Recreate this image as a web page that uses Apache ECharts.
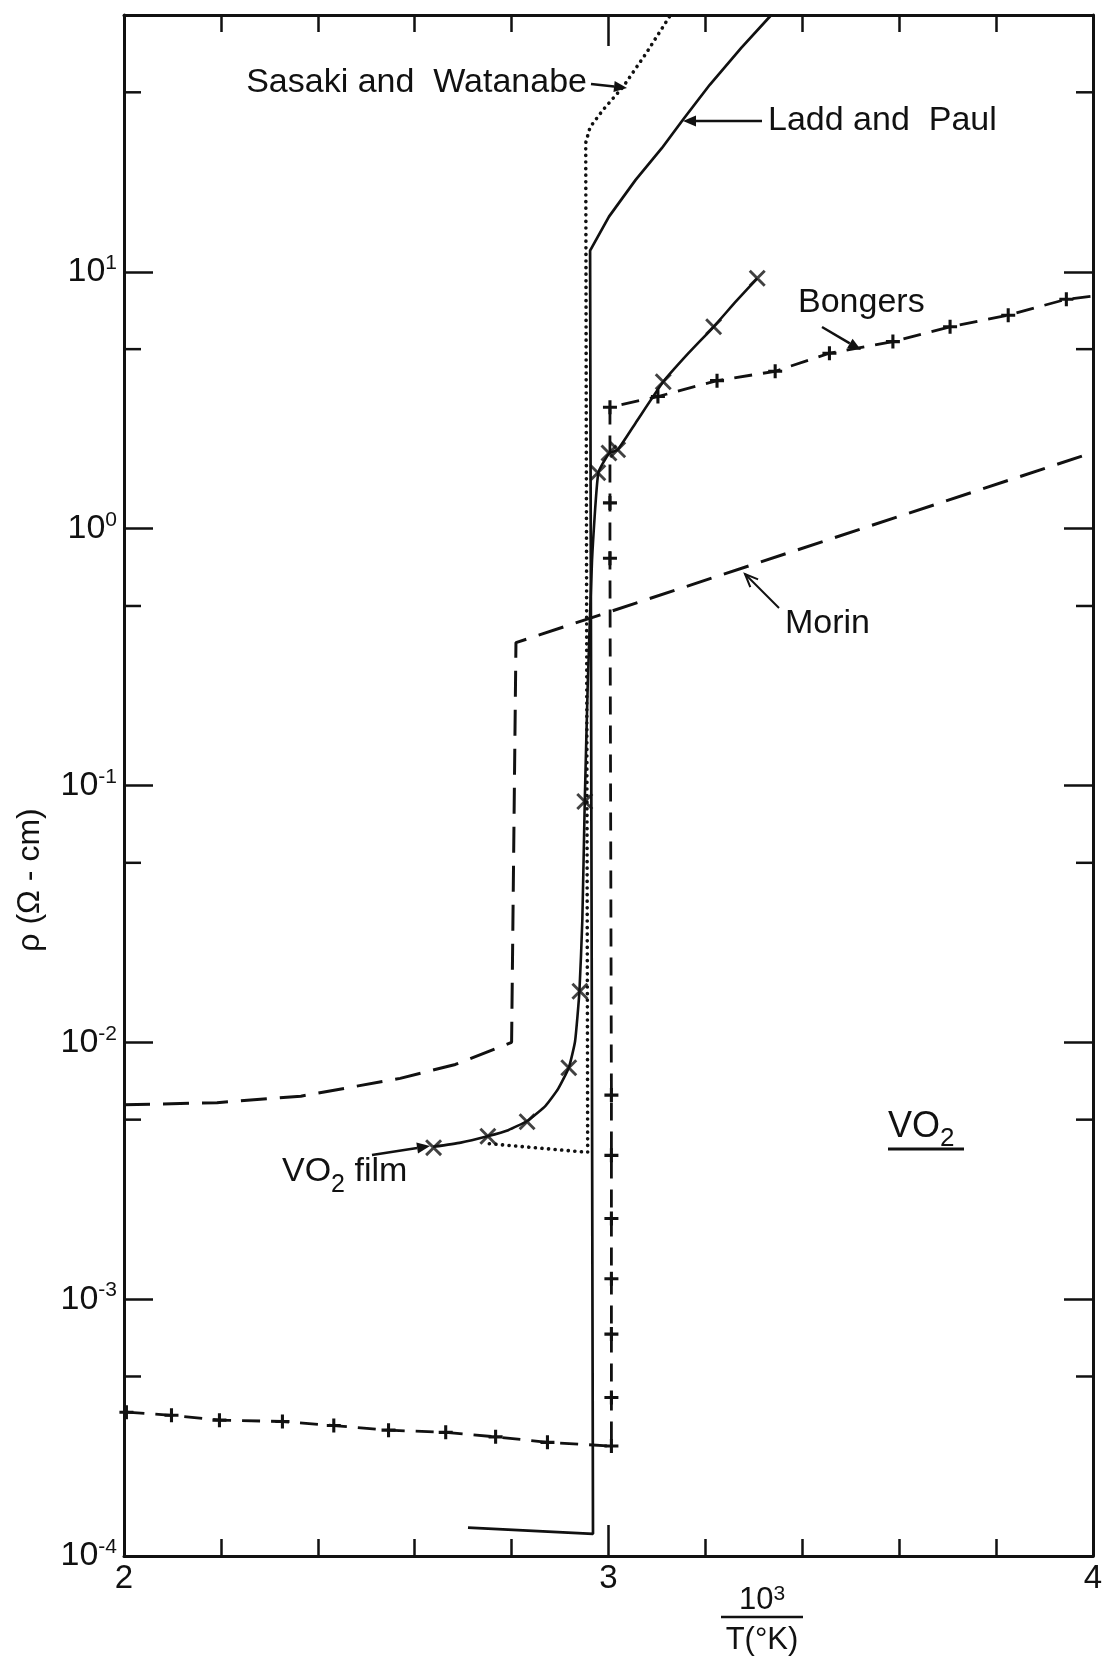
<!DOCTYPE html>
<html><head><meta charset="utf-8">
<script src="https://cdn.jsdelivr.net/npm/echarts@6/dist/echarts.min.js"></script>
<style>html,body{margin:0;padding:0;background:#fff}#c{width:1104px;height:1658px}</style>
</head><body><div id="c"></div>
<script>
// ---- data (x = 10^3/T, y = rho in ohm-cm) ----
const xMajorTicks = [2, 3, 4];
const yMinorTicks = [5e-4, 5e-3, 5e-2, 0.5, 5, 50];

const laddPaulX = [2.710, 2.968, 2.962, 3.001, 3.056, 3.110, 3.154, 3.209, 3.274, 3.336];
const laddPaulY = [1.29e-4, 1.22e-4, 12.1, 16.4, 22.8, 30.3, 39.2, 53.5, 74.5, 100];

const sasakiX = [2.754, 2.957, 2.953, 2.962, 2.990, 3.030, 3.078, 3.128];
const sasakiY = [4.03e-3, 3.73e-3, 31.8, 36.6, 43.0, 52.5, 71.1, 100];

const filmLineX = [2.638, 2.695, 2.750, 2.793, 2.833, 2.870, 2.896, 2.918, 2.931, 2.940, 2.946, 2.951, 2.957, 2.966, 2.979, 3.001, 3.019, 3.056, 3.113, 3.165, 3.217, 3.263, 3.307];
const filmLineY = [3.92e-3, 4.07e-3, 4.31e-3, 4.55e-3, 4.95e-3, 5.66e-3, 6.59e-3, 7.96e-3, 1.01e-2, 1.58e-2, 3.0e-2, 8.67e-2, 0.241, 0.753, 1.65, 1.96, 2.03, 2.58, 3.73, 4.82, 6.11, 7.67, 9.44];
const filmMarkX = [2.639, 2.751, 2.832, 2.918, 2.941, 2.951, 2.978, 3.001, 3.019, 3.113, 3.217, 3.307];
const filmMarkY = [3.89e-3, 4.31e-3, 4.91e-3, 7.96e-3, 1.58e-2, 8.67e-2, 1.65, 1.97, 2.03, 3.73, 6.11, 9.44];

const bongersX = [2.005, 2.098, 2.197, 2.327, 2.433, 2.546, 2.664, 2.767, 2.874, 3.006, 3.006, 3.006, 3.006, 3.006, 3.006, 3.006, 3.003, 3.003, 3.003, 3.102, 3.224, 3.344, 3.456, 3.587, 3.705, 3.825, 3.945, 4.0];
const bongersY = [3.63e-4, 3.53e-4, 3.38e-4, 3.34e-4, 3.22e-4, 3.09e-4, 3.03e-4, 2.91e-4, 2.77e-4, 2.68e-4, 4.14e-4, 7.31e-4, 1.20e-3, 2.06e-3, 3.63e-3, 6.23e-3, 0.767, 1.26, 2.97, 3.27, 3.77, 4.10, 4.82, 5.35, 6.11, 6.78, 7.82, 8.04];
const bongersMarked = bongersX.map((_, i) => i < bongersX.length - 1);

const morinX = [2.0, 2.192, 2.365, 2.570, 2.684, 2.800, 2.809, 4.0];
const morinY = [5.71e-3, 5.82e-3, 6.17e-3, 7.24e-3, 8.20e-3, 1.0e-2, 0.360, 1.98];

// ---- build ----
const zip = (xs, ys) => xs.map((x, i) => [x, ys[i]]);
const FONT = '"Liberation Sans", Arial, sans-serif';
const BLACK = '#111';
const PLUS = 'path://M3.9,0 H6.1 V3.9 H10 V6.1 H6.1 V10 H3.9 V6.1 H0 V3.9 H3.9 Z';
const CROSS = 'path://M0,1.2 L1.2,0 L5,3.8 L8.8,0 L10,1.2 L6.2,5 L10,8.8 L8.8,10 L5,6.2 L1.2,10 L0,8.8 L3.8,5 Z';

const chart = echarts.init(document.getElementById('c'), null, {renderer: 'canvas'});

function xAxisDef(pos, labels) {
  return {
    type: 'value', position: pos, min: 2, max: 4, interval: 1,
    axisLine: {show: true, onZero: false, lineStyle: {color: BLACK, width: 3}},
    axisTick: {show: true, inside: true, length: 31, lineStyle: {color: BLACK, width: 2.5}},
    minorTick: {show: true, splitNumber: 5, length: 17, lineStyle: {color: BLACK, width: 2.5}},
    axisLabel: {show: labels, margin: 6, color: BLACK, fontFamily: FONT, fontSize: 33,
      formatter: v => xMajorTicks.indexOf(v) >= 0 ? String(v) : ''},
    splitLine: {show: false}, minorSplitLine: {show: false}
  };
}
function yAxisDef(pos, labels) {
  return {
    type: 'log', logBase: 10, position: pos, min: 1e-4, max: 100, splitNumber: 6,
    axisLine: {show: true, onZero: false, lineStyle: {color: BLACK, width: 3}},
    axisTick: {show: true, inside: true, length: 29, lineStyle: {color: BLACK, width: 2.5}},
    axisLabel: {show: labels, margin: 7, color: BLACK, fontFamily: FONT,
      formatter: v => {
        const e = Math.round(Math.log10(v));
        if (e >= 2) return '';
        return '{b|10}{s|' + (e < 0 ? '-' + (-e) : e) + '}';
      },
      rich: {
        b: {fontSize: 34, fontFamily: FONT, color: BLACK, lineHeight: 38},
        s: {fontSize: 21, fontFamily: FONT, color: BLACK, verticalAlign: 'top', lineHeight: 21}
      }
    },
    splitLine: {show: false}
  };
}

const graphics = [];
function text(x, y, str, size, align, extra) {
  graphics.push(Object.assign({type: 'text', x: x, y: y, silent: true,
    style: {text: str, font: size + 'px ' + FONT, fill: BLACK, textAlign: align || 'left', textVerticalAlign: 'middle'}}, extra || {}));
}
function arrow(x1, y1, x2, y2, open) {
  const a = Math.atan2(y2 - y1, x2 - x1), L = 13, W = 5.5;
  const bx = x2 - L * Math.cos(a), by = y2 - L * Math.sin(a);
  const px = -Math.sin(a) * W, py = Math.cos(a) * W;
  if (open) {
    graphics.push({type: 'line', silent: true, shape: {x1: x1, y1: y1, x2: x2, y2: y2}, style: {stroke: BLACK, lineWidth: 2}});
    graphics.push({type: 'polyline', silent: true, shape: {points: [[bx + px, by + py], [x2, y2], [bx - px, by - py]]}, style: {stroke: BLACK, lineWidth: 2, fill: null}});
  } else {
    graphics.push({type: 'line', silent: true, shape: {x1: x1, y1: y1, x2: bx, y2: by}, style: {stroke: BLACK, lineWidth: 2.5}});
    graphics.push({type: 'polygon', silent: true, shape: {points: [[x2, y2], [bx + px, by + py], [bx - px, by - py]]}, style: {fill: BLACK}});
  }
}

text(587, 83, 'Sasaki and  Watanabe', 34, 'right');
arrow(591, 84, 627, 88);
text(768, 121, 'Ladd and  Paul', 34, 'left');
arrow(762, 121, 683, 121);
text(798, 303, 'Bongers', 34, 'left');
arrow(822, 327, 861, 350);
text(785, 624, 'Morin', 34, 'left');
arrow(779, 608, 745, 574, true);
graphics.push({type: 'text', x: 282, y: 1172, silent: true, style: {
  text: '{a|VO}{b|2}{a| film}', textVerticalAlign: 'middle',
  rich: {a: {font: '34px ' + FONT, fill: BLACK, lineHeight: 40},
         b: {font: '25px ' + FONT, fill: BLACK, verticalAlign: 'bottom', lineHeight: 24, padding: [0, 0, -6, 0]}}}});
arrow(372, 1155, 430, 1146);
graphics.push({type: 'text', x: 888, y: 1127, silent: true, style: {
  text: '{a|VO}{b|2}', textVerticalAlign: 'middle',
  rich: {a: {font: '36px ' + FONT, fill: BLACK, lineHeight: 40},
         b: {font: '26px ' + FONT, fill: BLACK, verticalAlign: 'bottom', lineHeight: 24, padding: [0, 0, -5, 0]}}}});
graphics.push({type: 'line', silent: true, shape: {x1: 888, y1: 1149, x2: 964, y2: 1149}, style: {stroke: BLACK, lineWidth: 3}});
// axis titles
graphics.push({type: 'text', x: 762, y: 1600, silent: true, style: {
  text: '{a|10}{b|3}', textAlign: 'center', textVerticalAlign: 'middle',
  rich: {a: {font: '31px ' + FONT, fill: BLACK, lineHeight: 32},
         b: {font: '21px ' + FONT, fill: BLACK, verticalAlign: 'top', lineHeight: 20}}}});
graphics.push({type: 'line', silent: true, shape: {x1: 721, y1: 1617, x2: 803, y2: 1617}, style: {stroke: BLACK, lineWidth: 2.5}});
text(762, 1640, 'T(°K)', 31, 'center');
graphics.push({type: 'text', x: 30, y: 880, rotation: Math.PI / 2, silent: true,
  style: {text: 'ρ (Ω - cm)', font: '32px ' + FONT, fill: BLACK, textAlign: 'center', textVerticalAlign: 'middle'}});

const option = {
  animation: false,
  backgroundColor: '#fff',
  grid: {left: 124, right: 11, top: 15, bottom: 102, containLabel: false, outerBoundsMode: 'none'},
  xAxis: [xAxisDef('bottom', true), xAxisDef('top', false)],
  yAxis: [yAxisDef('left', true), yAxisDef('right', false)],
  series: [
    {type: 'line', name: 'Ladd and Paul', data: zip(laddPaulX, laddPaulY), showSymbol: false, symbol: 'none',
     lineStyle: {color: BLACK, width: 2.7}, z: 3},
    {type: 'line', name: 'Sasaki and Watanabe', data: zip(sasakiX, sasakiY), symbol: 'none',
     lineStyle: {color: BLACK, width: 3.6, type: [0.1, 6.5], cap: 'round'}, z: 2},
    {type: 'line', name: 'VO2 film', data: zip(filmLineX, filmLineY), symbol: 'none', smooth: 0.15,
     lineStyle: {color: BLACK, width: 2.6}, z: 3},
    {type: 'scatter', name: 'VO2 film marks', data: zip(filmMarkX, filmMarkY), symbol: CROSS, symbolSize: 17,
     itemStyle: {color: BLACK}, z: 4},
    {type: 'line', name: 'Bongers', data: zip(bongersX, bongersY).map((p, i) => bongersMarked[i] ? p : {value: p, symbol: 'none'}),
     symbol: PLUS, symbolSize: 14, showAllSymbol: true, itemStyle: {color: BLACK},
     lineStyle: {color: BLACK, width: 2.8, type: [18, 11]}, z: 3},
    {type: 'line', name: 'Morin', data: zip(morinX, morinY), symbol: 'none',
     lineStyle: {color: BLACK, width: 3, type: [26, 13]}, z: 3},
    {type: 'custom', name: 'minor y ticks', data: yMinorTicks.map(v => [2, v]), silent: true, clip: false,
     renderItem: (params, api) => {
       const p = api.coord([api.value(0), api.value(1)]);
       const cs = params.coordSys;
       const st = {stroke: BLACK, lineWidth: 2.5};
       return {type: 'group', children: [
         {type: 'line', shape: {x1: cs.x, y1: p[1], x2: cs.x + 17, y2: p[1]}, style: st},
         {type: 'line', shape: {x1: cs.x + cs.width - 17, y1: p[1], x2: cs.x + cs.width, y2: p[1]}, style: st}
       ]};
     }}
  ],
  graphic: graphics
};
chart.setOption(option);
</script>
</body></html>
